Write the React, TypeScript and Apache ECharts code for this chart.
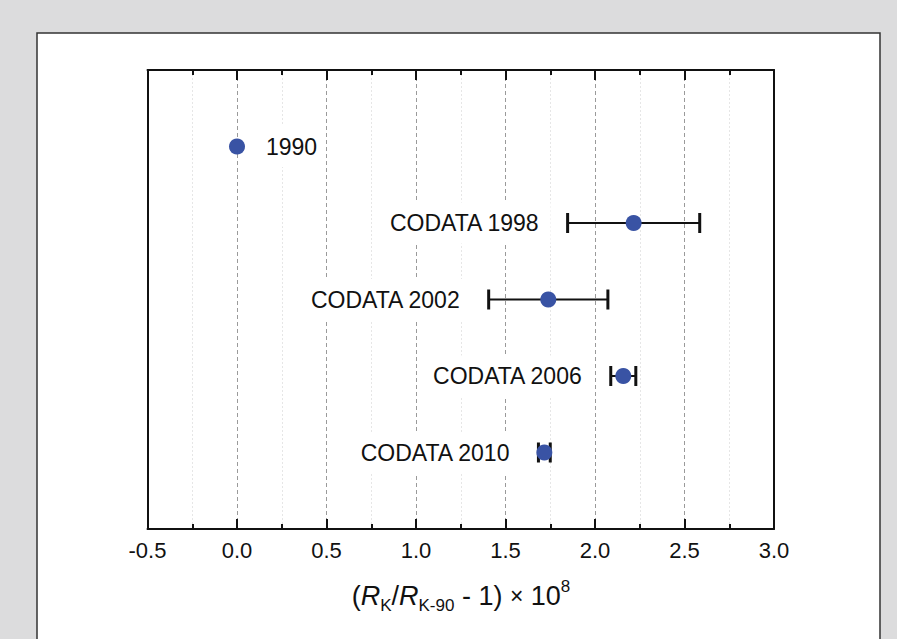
import React, { useEffect, useRef } from 'react';
import * as echarts from 'echarts';

const labels = ['1990', 'CODATA 1998', 'CODATA 2002', 'CODATA 2006', 'CODATA 2010'];
const values = [0, 2.216, 1.739, 2.158, 1.717];
const uncertainties = [0, 0.369, 0.333, 0.07, 0.033];
const rows = [5, 4, 3, 2, 1];
const xTicks = [-0.5, 0, 0.5, 1, 1.5, 2, 2.5, 3];
const rowRange = [0, 6];

const FONT = '"Liberation Sans", Arial, Helvetica, sans-serif';
const INK = '#111';

export default function App() {
  const ref = useRef<HTMLDivElement>(null);

  useEffect(() => {
    const chart = echarts.init(ref.current!, null, { renderer: 'svg' });
    const data = values.map((v, i) => [v, rows[i], uncertainties[i], i]);

    const baseX = {
      type: 'value',
      min: xTicks[0],
      max: xTicks[xTicks.length - 1],
      interval: xTicks[1] - xTicks[0],
      axisLine: { show: true, onZero: false, lineStyle: { color: INK, width: 2 } },
      axisTick: { show: true, inside: true, length: 10, lineStyle: { color: INK, width: 2 } },
      minorTick: { show: true, splitNumber: 2, length: 5, lineStyle: { color: INK, width: 2 } },
    };

    const option = {
      animation: false,
      backgroundColor: '#dcdcdd',
      textStyle: { fontFamily: FONT },
      graphic: [
        {
          type: 'rect',
          z: -10,
          shape: { x: 37, y: 33, width: 843, height: 640 },
          style: { fill: '#ffffff', stroke: '#333', lineWidth: 1.5 },
        },
        {
          type: 'text',
          z: 10,
          x: 461,
          y: 596,
          style: {
            text: '({i|R}{sub|K}/{i|R}{sub|K-90} - 1) {x|×} 10{sup|8}',
            fontFamily: FONT,
            fontSize: 27,
            lineHeight: 36,
            fill: INK,
            align: 'center',
            verticalAlign: 'middle',
            rich: {
              i: { fontFamily: FONT, fontStyle: 'italic', fontSize: 27, lineHeight: 36, fill: INK },
              sub: { fontFamily: FONT, fontSize: 17, lineHeight: 17, verticalAlign: 'bottom', fill: INK },
              sup: { fontFamily: FONT, fontSize: 17, lineHeight: 17, verticalAlign: 'top', fill: INK },
              x: { fontFamily: FONT, fontSize: 23, lineHeight: 36, fill: INK },
            },
          },
        },
      ],
      grid: { left: 147.5, right: 123, top: 70, bottom: 110, containLabel: false },
      xAxis: [
        {
          ...baseX,
          position: 'bottom',
          axisLabel: {
            show: true,
            margin: 10,
            fontSize: 22,
            color: INK,
            fontFamily: FONT,
            formatter: (v: number) => v.toFixed(1),
          },
          splitLine: { show: true, lineStyle: { color: '#9a9a9a', width: 1, type: [4, 3] } },
          minorSplitLine: { show: true, lineStyle: { color: '#e6e6e6', width: 1, type: [2, 2] } },
        },
        {
          ...baseX,
          position: 'top',
          axisLabel: { show: false },
          splitLine: { show: false },
          minorSplitLine: { show: false },
        },
      ],
      yAxis: [
        {
          type: 'value',
          min: rowRange[0],
          max: rowRange[1],
          position: 'left',
          axisLine: { show: true, onZero: false, lineStyle: { color: INK, width: 2 } },
          axisTick: { show: false },
          axisLabel: { show: false },
          splitLine: { show: false },
        },
        {
          type: 'value',
          min: rowRange[0],
          max: rowRange[1],
          position: 'right',
          axisLine: { show: true, onZero: false, lineStyle: { color: INK, width: 2 } },
          axisTick: { show: false },
          axisLabel: { show: false },
          splitLine: { show: false },
        },
      ],
      series: [
        {
          type: 'custom',
          z: 3,
          xAxisIndex: 0,
          yAxisIndex: 0,
          data,
          renderItem: (params: any, api: any) => {
            const x = api.value(0);
            const y = api.value(1);
            const e = api.value(2);
            const idx = api.value(3);
            const c = api.coord([x, y]);
            const children: any[] = [];
            let labelX: number;
            let align: string;
            let padding: number[];
            if (e > 0) {
              const l = api.coord([x - e, y]);
              const r = api.coord([x + e, y]);
              children.push({
                type: 'line',
                shape: { x1: l[0], y1: l[1], x2: r[0], y2: r[1] },
                style: { stroke: INK, lineWidth: 2 },
              });
              children.push({
                type: 'line',
                shape: { x1: l[0], y1: l[1] - 10, x2: l[0], y2: l[1] + 10 },
                style: { stroke: INK, lineWidth: 3 },
              });
              children.push({
                type: 'line',
                shape: { x1: r[0], y1: r[1] - 10, x2: r[0], y2: r[1] + 10 },
                style: { stroke: INK, lineWidth: 3 },
              });
              padding = [9, 12, 9, 6];
              labelX = l[0] - 29 + padding[1];
              align = 'right';
            } else {
              padding = [9, 4, 9, 8];
              labelX = c[0] + 29 - padding[3];
              align = 'left';
            }
            children.push({
              type: 'text',
              style: {
                text: labels[idx],
                x: labelX,
                y: c[1],
                align,
                verticalAlign: 'middle',
                fontSize: 23,
                fontFamily: FONT,
                fill: INK,
                backgroundColor: '#ffffff',
                padding,
              },
            });
            return { type: 'group', children };
          },
        },
        {
          type: 'scatter',
          z: 4,
          xAxisIndex: 0,
          yAxisIndex: 0,
          symbol: 'circle',
          symbolSize: 16,
          itemStyle: { color: '#3953a4', opacity: 1 },
          data: values.map((v, i) => [v, rows[i]]),
        },
      ],
    };

    chart.setOption(option as any);
    return () => chart.dispose();
  }, []);

  return (
    <div
      ref={ref}
      style={{ position: 'absolute', left: 0, top: 0, width: 897, height: 639 }}
    />
  );
}
